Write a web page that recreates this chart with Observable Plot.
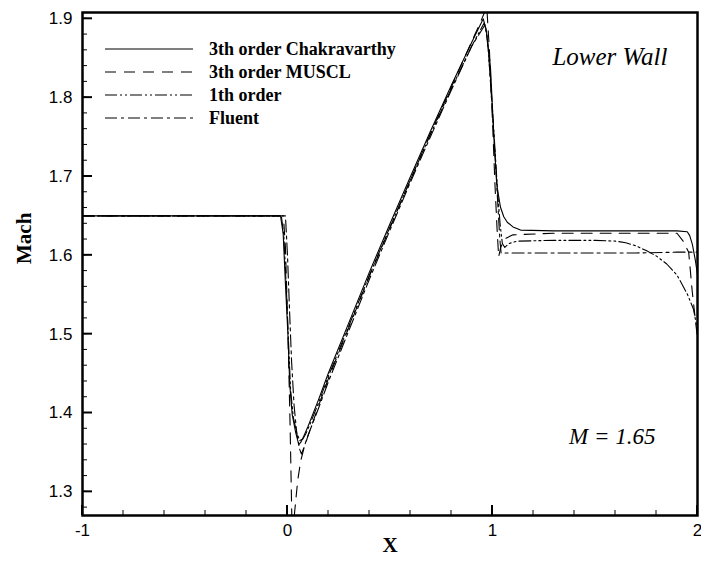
<!DOCTYPE html>
<html><head><meta charset="utf-8">
<script src="https://cdn.jsdelivr.net/npm/d3@7"></script>
<script src="https://cdn.jsdelivr.net/npm/@observablehq/plot@0.6"></script>
<style>
body{margin:0;background:#fff;}
#chart{width:701px;height:564px;}
</style></head><body><div id="chart"></div>
<script>
// ---- data ----
const seriesNames = ["3th order Chakravarthy", "3th order MUSCL", "1th order", "Fluent"];

const chakX = [-1, -0.034, -0.021, -0.010, 0.002, 0.011, 0.023, 0.04, 0.055, 0.065, 0.08, 0.1, 0.15, 0.2, 0.3, 0.4, 0.5, 0.6, 0.7, 0.8, 0.9, 0.955, 0.97, 0.99, 1.006, 1.015, 1.023, 1.039, 1.055, 1.072, 1.1, 1.137, 1.3, 1.5, 1.7, 1.9, 1.95, 1.962, 1.975, 1.99, 2.0];
const chakM = [1.650, 1.650, 1.627, 1.563, 1.500, 1.436, 1.398, 1.375, 1.360, 1.363, 1.371, 1.383, 1.416, 1.451, 1.515, 1.579, 1.640, 1.700, 1.759, 1.816, 1.871, 1.900, 1.885, 1.839, 1.754, 1.715, 1.686, 1.661, 1.649, 1.642, 1.636, 1.632, 1.631, 1.631, 1.631, 1.631, 1.630, 1.625, 1.614, 1.593, 1.575];

const musclX = [-1, -0.02, -0.01, -0.002, 0.006, 0.013, 0.018, 0.022, 0.027, 0.035, 0.05, 0.065, 0.08, 0.1, 0.15, 0.2, 0.3, 0.4, 0.5, 0.6, 0.7, 0.8, 0.9, 0.94, 0.972, 0.985, 1.0, 1.012, 1.022, 1.03, 1.04, 1.06, 1.1, 1.3, 1.5, 1.7, 1.9, 1.93, 1.957, 1.974, 1.99, 2.0];
const musclM = [1.650, 1.650, 1.610, 1.540, 1.460, 1.380, 1.310, 1.255, 1.250, 1.275, 1.315, 1.340, 1.355, 1.371, 1.408, 1.444, 1.509, 1.574, 1.635, 1.696, 1.756, 1.814, 1.872, 1.895, 1.915, 1.860, 1.770, 1.690, 1.635, 1.598, 1.610, 1.621, 1.626, 1.628, 1.628, 1.628, 1.628, 1.618, 1.604, 1.555, 1.517, 1.495];

const firstX = [-1, -0.03, -0.018, -0.006, 0.005, 0.015, 0.028, 0.045, 0.06, 0.075, 0.09, 0.11, 0.15, 0.2, 0.3, 0.4, 0.5, 0.6, 0.7, 0.8, 0.9, 0.96, 0.975, 0.995, 1.012, 1.025, 1.037, 1.048, 1.06, 1.08, 1.12, 1.3, 1.5, 1.6, 1.65, 1.7, 1.75, 1.8, 1.85, 1.9, 1.95, 1.98, 2.0];
const firstM = [1.650, 1.650, 1.625, 1.560, 1.490, 1.430, 1.395, 1.375, 1.365, 1.367, 1.374, 1.386, 1.412, 1.447, 1.511, 1.575, 1.636, 1.696, 1.755, 1.812, 1.866, 1.895, 1.875, 1.805, 1.735, 1.680, 1.640, 1.615, 1.610, 1.615, 1.618, 1.619, 1.619, 1.618, 1.616, 1.612, 1.606, 1.599, 1.589, 1.575, 1.551, 1.532, 1.505];

const fluentX = [-1, -0.01, 0.0, 0.01, 0.02, 0.032, 0.045, 0.058, 0.068, 0.08, 0.095, 0.12, 0.15, 0.2, 0.3, 0.4, 0.5, 0.6, 0.7, 0.8, 0.9, 0.965, 0.98, 1.0, 1.015, 1.028, 1.036, 1.042, 1.1, 1.3, 1.5, 1.7, 1.9, 2.0];
const fluentM = [1.650, 1.650, 1.600, 1.530, 1.465, 1.410, 1.375, 1.355, 1.348, 1.356, 1.368, 1.385, 1.405, 1.440, 1.505, 1.570, 1.632, 1.693, 1.752, 1.810, 1.866, 1.893, 1.860, 1.780, 1.715, 1.655, 1.620, 1.603, 1.603, 1.603, 1.603, 1.603, 1.604, 1.604];

const xTicks = [-1, 0, 1, 2];
const xTickLabels = ["-1", "0", "1", "2"];
const yTicks = [1.3, 1.4, 1.5, 1.6, 1.7, 1.8, 1.9];
const yTickLabels = ["1.3", "1.4", "1.5", "1.6", "1.7", "1.8", "1.9"];
const xMinor = d3.range(-8, 20, 2).map(v => v / 10);
const yMinor = d3.range(128, 191, 2).map(v => v / 100);

const xLabel = "X";
const yLabel = "Mach";
const note1 = "Lower Wall";
const note2 = "M = 1.65";

// ---- styles ----
const dashes = [null, "11,8", "12,3,2,3,2,3", "12,4,3,4"];
const toRows = (xs, ms) => xs.map((x, i) => ({x, m: ms[i]}));
const series = [toRows(chakX, chakM), toRows(musclX, musclM), toRows(firstX, firstM), toRows(fluentX, fluentM)];

const serif = "'Liberation Serif', 'Times New Roman', serif";

const chart = Plot.plot({
  width: 701, height: 564,
  marginTop: 12, marginRight: 4, marginBottom: 49, marginLeft: 82,
  x: {domain: [-1, 2]},
  y: {domain: [1.27, 1.908]},
  style: {fontFamily: "'Liberation Sans', Arial, sans-serif", fontSize: "17px", color: "#000", background: "#fff"},
  marks: [
    Plot.axisX(xTicks, {tickSize: 0, tickPadding: 8, tickFormat: d => xTickLabels[xTicks.indexOf(d)], fontSize: 17, label: null}),
    Plot.axisY(yTicks, {tickSize: 0, tickPadding: 10, tickFormat: d => yTickLabels[yTicks.indexOf(d)], fontSize: 17, label: null}),
    ...series.map((rows, i) => Plot.line(rows, {x: "x", y: "m", stroke: "#000", strokeWidth: 1.1, strokeDasharray: dashes[i], clip: true})),
    Plot.text([yLabel], {frameAnchor: "left", dx: -58, rotate: -90, fontFamily: serif, fontWeight: "bold", fontSize: 21}),
    Plot.text([xLabel], {frameAnchor: "bottom", dy: 36, fontFamily: serif, fontWeight: "bold", fontSize: 21}),
    Plot.text([note1], {frameAnchor: "top-right", dx: -30, dy: 35, textAnchor: "end", fontFamily: serif, fontStyle: "italic", fontSize: 25}),
    Plot.text([note2], {frameAnchor: "bottom-right", dx: -42, dy: -72, textAnchor: "end", fontFamily: serif, fontStyle: "italic", fontSize: 23}),
    Plot.frame({stroke: "#000", strokeWidth: 2.5})
  ]
});

document.getElementById("chart").appendChild(chart);

const svg = d3.select(chart);

// ---- inward ticks, positioned with the plot's own scales ----
const sx = chart.scale("x"), sy = chart.scale("y");
const [yBottom] = sy.range;            // pixel of y-domain minimum (bottom)
const [xLeft] = sx.range;              // pixel of x-domain minimum (left)
const tg = svg.append("g").attr("stroke", "#000");
const tickSet = [[xTicks, 10, 2], [xMinor, 5, 1]];
tickSet.forEach(([vals, len, w]) => vals.forEach(v => {
  const px = sx.apply(v);
  tg.append("line").attr("x1", px).attr("x2", px).attr("y1", yBottom).attr("y2", yBottom - len).attr("stroke-width", w);
}));
[[yTicks, 10, 2], [yMinor, 5, 1]].forEach(([vals, len, w]) => vals.forEach(v => {
  const py = sy.apply(v);
  tg.append("line").attr("y1", py).attr("y2", py).attr("x1", xLeft).attr("x2", xLeft + len).attr("stroke-width", w);
}));

// ---- legend (inside the frame, top-left) ----
const lg = svg.append("g").attr("class", "legend");
const rowY = [49, 72, 95, 118];
seriesNames.forEach((name, i) => {
  lg.append("line")
    .attr("x1", 105).attr("x2", 193).attr("y1", rowY[i]).attr("y2", rowY[i])
    .attr("stroke", "#000").attr("stroke-width", 1.1)
    .attr("stroke-dasharray", dashes[i]);
  lg.append("text")
    .attr("x", 209).attr("y", rowY[i]).attr("dy", "0.35em")
    .attr("text-anchor", "start")
    .attr("font-family", serif).attr("font-weight", "bold").attr("font-size", 18)
    .attr("fill", "#000")
    .text(name);
});
</script>
</body></html>
